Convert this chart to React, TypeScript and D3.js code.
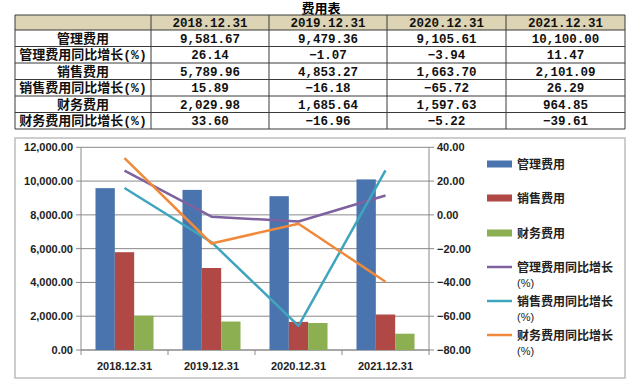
import React from "react";
import * as d3 from "d3";

const categories = ["2018.12.31", "2019.12.31", "2020.12.31", "2021.12.31"];
const mgmtCost = [9581.67, 9479.36, 9105.61, 10100.0];
const mgmtYoY = [26.14, -1.07, -3.94, 11.47];
const salesCost = [5789.96, 4853.27, 1663.7, 2101.09];
const salesYoY = [15.89, -16.18, -65.72, 26.29];
const finCost = [2029.98, 1685.64, 1597.63, 964.85];
const finYoY = [33.6, -16.96, -5.22, -39.61];

const tableTitle = "费用表";
const rowLabels = [
  "管理费用",
  "管理费用同比增长(%)",
  "销售费用",
  "销售费用同比增长(%)",
  "财务费用",
  "财务费用同比增长(%)",
];
const leftTicks = [0, 2000, 4000, 6000, 8000, 10000, 12000];
const rightTicks = [-80, -60, -40, -20, 0, 20, 40];

const barSeries = [
  { name: "管理费用", values: mgmtCost, color: "#4A74AE" },
  { name: "销售费用", values: salesCost, color: "#B04845" },
  { name: "财务费用", values: finCost, color: "#8CAF52" },
];
const lineSeries = [
  { name: "管理费用同比增长", values: mgmtYoY, color: "#7E62A0" },
  { name: "销售费用同比增长", values: salesYoY, color: "#3FA5BF" },
  { name: "财务费用同比增长", values: finYoY, color: "#F08A3A" },
];

const fmt = d3.format(",.2f");
const tableFont = "'Liberation Mono', 'Noto Sans CJK SC', monospace";
const chartFont = "'Liberation Sans', 'Noto Sans CJK SC', sans-serif";

export default function App() {
  const colEdges = [15, 151, 269, 387, 506, 625];
  const rowEdges = [15, 30, 46.5, 63, 79.5, 96, 112.5, 129];
  const tableRows = [mgmtCost, mgmtYoY, salesCost, salesYoY, finCost, finYoY];

  const plotL = 81;
  const plotR = 429;
  const plotT = 147.3;
  const plotB = 350;

  const x = d3.scaleBand<string>().domain(categories).range([plotL, plotR]).paddingInner(0).paddingOuter(0);
  const bw = x.bandwidth();
  const groupW = bw * 0.667;
  const xSub = d3
    .scaleBand<string>()
    .domain(barSeries.map((s) => s.name))
    .range([(bw - groupW) / 2, (bw + groupW) / 2]);
  const yL = d3.scaleLinear().domain([0, 12000]).range([plotB, plotT]);
  const yR = d3.scaleLinear().domain([-80, 40]).range([plotB, plotT]);

  const lineGen = (vals: number[]) =>
    d3
      .line<number>()
      .x((_, i) => (x(categories[i]) as number) + bw / 2)
      .y((v) => yR(v))(vals) as string;

  const legendX = 487;
  const legendBarY = [164, 198, 233];
  const legendLineY = [267, 301, 335];

  return (
    <svg
      width={640}
      height={386}
      style={{ position: "absolute", left: 0, top: 0, background: "#fff" }}
    >
      <text x={321} y={13} textAnchor="middle" fontFamily={tableFont} fontWeight="bold" fontSize={13}>
        {tableTitle}
      </text>
      <rect x={colEdges[0]} y={rowEdges[0]} width={colEdges[5] - colEdges[0]} height={rowEdges[1] - rowEdges[0]} fill="#DCD4B4" />
      {rowEdges.map((ry, i) => (
        <line key={"r" + i} x1={colEdges[0]} x2={colEdges[5]} y1={ry} y2={ry} stroke="#3a3a3a" strokeWidth={1} />
      ))}
      {colEdges.map((cx, i) => (
        <line key={"c" + i} x1={cx} x2={cx} y1={rowEdges[0]} y2={rowEdges[7]} stroke="#3a3a3a" strokeWidth={1} />
      ))}
      {categories.map((c, i) => (
        <text
          key={"h" + i}
          x={(colEdges[i + 1] + colEdges[i + 2]) / 2}
          y={(rowEdges[0] + rowEdges[1]) / 2 + 4.5}
          textAnchor="middle"
          fontFamily={tableFont}
          fontWeight="bold"
          fontSize={12.5}
          fill="#111"
        >
          {c}
        </text>
      ))}
      {rowLabels.map((lab, r) => (
        <g key={"row" + r}>
          <text
            x={(colEdges[0] + colEdges[1]) / 2}
            y={(rowEdges[r + 1] + rowEdges[r + 2]) / 2 + 4.5}
            textAnchor="middle"
            fontFamily={tableFont}
            fontWeight="bold"
            fontSize={13}
            fill="#111"
          >
            {lab}
          </text>
          {tableRows[r].map((v, c) => (
            <text
              key={c}
              x={(colEdges[c + 1] + colEdges[c + 2]) / 2}
              y={(rowEdges[r + 1] + rowEdges[r + 2]) / 2 + 4.5}
              textAnchor="middle"
              fontFamily={tableFont}
              fontWeight="bold"
              fontSize={12.5}
              fill="#111"
            >
              {fmt(v)}
            </text>
          ))}
        </g>
      ))}

      <rect x={15} y={138} width={610} height={240} fill="#fff" stroke="#BDBDBD" strokeWidth={1.5} />

      {leftTicks.map((t) => (
        <line key={"g" + t} x1={plotL} x2={plotR} y1={yL(t)} y2={yL(t)} stroke="#8a8a8a" strokeWidth={1} />
      ))}
      <line x1={plotL} x2={plotL} y1={plotT} y2={plotB} stroke="#8a8a8a" />
      {leftTicks.map((t) => (
        <g key={"lt" + t}>
          <line x1={plotL - 5} x2={plotL} y1={yL(t)} y2={yL(t)} stroke="#8a8a8a" />
          <text x={plotL - 8} y={yL(t) + 4} textAnchor="end" fontFamily={chartFont} fontWeight="bold" fontSize={11} fill="#222">
            {fmt(t)}
          </text>
        </g>
      ))}
      <line x1={plotR} x2={plotR} y1={plotT} y2={plotB} stroke="#8a8a8a" />
      {rightTicks.map((t) => (
        <g key={"rt" + t}>
          <line x1={plotR} x2={plotR + 5} y1={yR(t)} y2={yR(t)} stroke="#8a8a8a" />
          <text x={plotR + 8} y={yR(t) + 4} textAnchor="start" fontFamily={chartFont} fontWeight="bold" fontSize={11} fill="#222">
            {fmt(t)}
          </text>
        </g>
      ))}
      <line x1={plotL} x2={plotR} y1={plotB} y2={plotB} stroke="#8a8a8a" />
      {categories.map((c, i) => (
        <g key={"xc" + c}>
          <line x1={x(c) as number} x2={x(c) as number} y1={plotB} y2={plotB + 5} stroke="#8a8a8a" />
          {i === categories.length - 1 && (
            <line x1={plotR} x2={plotR} y1={plotB} y2={plotB + 5} stroke="#8a8a8a" />
          )}
          <text
            x={(x(c) as number) + bw / 2}
            y={370}
            textAnchor="middle"
            fontFamily={chartFont}
            fontWeight="bold"
            fontSize={11}
            fill="#222"
          >
            {c}
          </text>
        </g>
      ))}

      {barSeries.map((s) =>
        s.values.map((v, i) => (
          <rect
            key={s.name + i}
            x={(x(categories[i]) as number) + (xSub(s.name) as number)}
            y={yL(v)}
            width={xSub.bandwidth()}
            height={plotB - yL(v)}
            fill={s.color}
          />
        ))
      )}

      {lineSeries.map((s) => (
        <path key={s.name} d={lineGen(s.values)} fill="none" stroke={s.color} strokeWidth={2.5} strokeLinejoin="round" />
      ))}

      {barSeries.map((s, i) => (
        <g key={"lb" + i}>
          <rect x={legendX} y={legendBarY[i] - 3.5} width={25} height={7} fill={s.color} />
          <text x={legendX + 30} y={legendBarY[i] + 4.5} fontFamily={chartFont} fontWeight="bold" fontSize={12} fill="#222">
            {s.name}
          </text>
        </g>
      ))}
      {lineSeries.map((s, i) => (
        <g key={"ll" + i}>
          <line x1={legendX} x2={legendX + 25} y1={legendLineY[i]} y2={legendLineY[i]} stroke={s.color} strokeWidth={2.5} />
          <text x={legendX + 30} y={legendLineY[i] + 4.5} fontFamily={chartFont} fontWeight="bold" fontSize={12} fill="#222">
            {s.name}
          </text>
          <text x={legendX + 30} y={legendLineY[i] + 19.5} fontFamily={chartFont} fontSize={11} fill="#222">
            (%)
          </text>
        </g>
      ))}
    </svg>
  );
}
